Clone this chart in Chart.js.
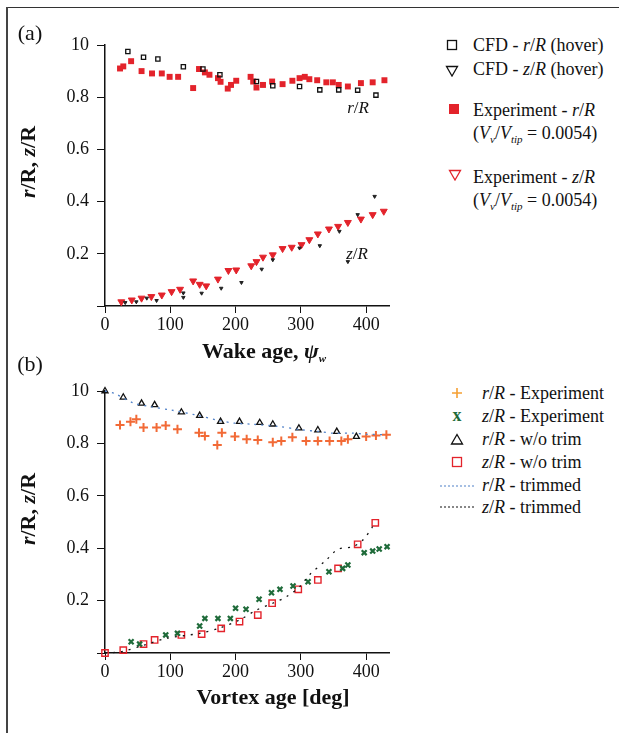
<!DOCTYPE html>
<html>
<head>
<meta charset="utf-8">
<script src="https://cdn.jsdelivr.net/npm/chart.js@4/dist/chart.umd.min.js"></script>
<style>
  html, body { margin: 0; padding: 0; background: #fff; }
  body { width: 619px; height: 733px; position: relative; overflow: hidden; font-family: 'Liberation Serif', Tinos, 'Times New Roman', 'DejaVu Serif', serif; color: #111; }
  .frame-top { position: absolute; left: 7px; top: 7px; width: 612px; height: 0; border-top: 1.5px solid #333; }
  .frame-left { position: absolute; left: 6px; top: 7px; width: 0; height: 726px; border-left: 2px solid #444; }
  canvas { position: absolute; left: 0; }
  .t { position: absolute; white-space: nowrap; transform: translate(-50%, -50%); }
  .lg { position: absolute; white-space: nowrap; font-size: 18px; line-height: 1; transform: translateY(-50%); }
  .sym { position: absolute; transform: translate(-50%, -50%); }
  i { font-style: italic; }
  sub { font-size: 11px; vertical-align: -4px; line-height: 0; }
</style>
</head>
<body>
<div class="frame-top"></div>
<div class="frame-left"></div>
<canvas id="chartA" width="400" height="340" style="top:0"></canvas>
<canvas id="chartB" width="400" height="393" style="top:340px"></canvas>

<!-- panel labels and axis titles -->
<div class="t" style="left:30px; top:33px; font-size:22px;">(a)</div>
<div class="t" style="left:30px; top:364px; font-size:22px;">(b)</div>
<div class="t" style="left:28px; top:162px; font-size:22px; font-weight:bold; transform: translate(-50%, -50%) rotate(-90deg);"><i>r</i>/R, <i>z</i>/R</div>
<div class="t" style="left:28px; top:509px; font-size:22px; font-weight:bold; transform: translate(-50%, -50%) rotate(-90deg);"><i>r</i>/R, <i>z</i>/R</div>
<div class="t" style="left:264px; top:351px; font-size:22px; font-weight:bold;">Wake age, <i>ψ</i><sub><i>w</i></sub></div>
<div class="t" style="left:273px; top:697px; font-size:22px; font-weight:bold;">Vortex age [deg]</div>
<div class="t" style="left:358px; top:108px; font-size:17px;"><i>r</i>/<i>R</i></div>
<div class="t" style="left:357px; top:254px; font-size:17px;"><i>z</i>/<i>R</i></div>

<!-- legend (a) -->
<svg class="sym" style="left:452px; top:45px" width="12" height="12"><rect x="1.5" y="1.5" width="9" height="9" fill="none" stroke="#111" stroke-width="1.3"/></svg>
<div class="lg" style="left:473px; top:45px;">CFD - <i>r</i>/<i>R</i> (hover)</div>
<svg class="sym" style="left:452px; top:71px" width="14" height="12"><polygon points="1.5,1.5 12.5,1.5 7,11" fill="none" stroke="#111" stroke-width="1.3"/></svg>
<div class="lg" style="left:473px; top:69px;">CFD - <i>z</i>/<i>R</i> (hover)</div>
<svg class="sym" style="left:454px; top:109px" width="12" height="12"><rect x="1" y="1" width="10" height="10" fill="#e3232b"/></svg>
<div class="lg" style="left:473px; top:110px;">Experiment - <i>r</i>/<i>R</i></div>
<div class="lg" style="left:473px; top:133px;">(<i>V</i><sub><i>v</i></sub>/<i>V</i><sub><i>tip</i></sub> = 0.0054)</div>
<svg class="sym" style="left:455px; top:175px" width="14" height="12"><polygon points="1.5,1.5 12.5,1.5 7,11" fill="none" stroke="#e3232b" stroke-width="1.3"/></svg>
<div class="lg" style="left:473px; top:177px;">Experiment - <i>z</i>/<i>R</i></div>
<div class="lg" style="left:473px; top:200px;">(<i>V</i><sub><i>v</i></sub>/<i>V</i><sub><i>tip</i></sub> = 0.0054)</div>

<!-- legend (b) -->
<svg class="sym" style="left:457px; top:393px" width="12" height="12"><path d="M6 1 V11 M1 6 H11" stroke="#f5a033" stroke-width="1.6"/></svg>
<div class="lg" style="left:482px; top:393px;"><i>r</i>/<i>R</i> - Experiment</div>
<div class="t" style="left:457px; top:415px; font-size:18px; font-weight:bold; color:#1f6b3a;">x</div>
<div class="lg" style="left:482px; top:416px;"><i>z</i>/<i>R</i> - Experiment</div>
<svg class="sym" style="left:457px; top:439px" width="14" height="12"><polygon points="7,1.5 12.5,11 1.5,11" fill="none" stroke="#111" stroke-width="1.3"/></svg>
<div class="lg" style="left:482px; top:439px;"><i>r</i>/<i>R</i> - w/o trim</div>
<svg class="sym" style="left:457px; top:462px" width="12" height="12"><rect x="1.5" y="1.5" width="9" height="9" fill="none" stroke="#e3232b" stroke-width="1.3"/></svg>
<div class="lg" style="left:482px; top:462px;"><i>z</i>/<i>R</i> - w/o trim</div>
<svg class="sym" style="left:457px; top:486px" width="34" height="4"><line x1="0" y1="2" x2="34" y2="2" stroke="#4f80c8" stroke-width="1.2" stroke-dasharray="2,2"/></svg>
<div class="lg" style="left:482px; top:485px;"><i>r</i>/<i>R</i> - trimmed</div>
<svg class="sym" style="left:457px; top:507px" width="34" height="4"><line x1="0" y1="2" x2="34" y2="2" stroke="#111" stroke-width="1.2" stroke-dasharray="2,2"/></svg>
<div class="lg" style="left:482px; top:507px;"><i>z</i>/<i>R</i> - trimmed</div>

<script>
// (a) wake geometry, hover
var wakeAgeExpR = [23, 28, 40, 56, 72, 87, 99, 112, 135, 144, 153, 160, 173, 177, 188, 193, 201, 223, 227, 232, 242, 256, 272, 287, 298, 306, 313, 325, 339, 349, 358, 372, 392, 410, 428];
var expRadial = [0.910, 0.918, 0.938, 0.900, 0.891, 0.891, 0.878, 0.878, 0.835, 0.908, 0.895, 0.886, 0.873, 0.859, 0.833, 0.847, 0.863, 0.878, 0.860, 0.837, 0.847, 0.860, 0.850, 0.863, 0.873, 0.878, 0.869, 0.865, 0.857, 0.857, 0.847, 0.841, 0.854, 0.857, 0.865];
var wakeAgeExpZ = [25, 41, 56, 71, 87, 102, 115, 135, 145, 155, 173, 189, 201, 224, 232, 242, 257, 272, 286, 301, 313, 326, 343, 357, 372, 392, 410, 427];
var expAxial = [0.016, 0.023, 0.030, 0.036, 0.042, 0.055, 0.064, 0.096, 0.083, 0.077, 0.103, 0.136, 0.138, 0.154, 0.170, 0.187, 0.196, 0.220, 0.225, 0.235, 0.254, 0.276, 0.295, 0.305, 0.320, 0.333, 0.350, 0.363];
var wakeAgeCfdR = [35, 59, 81, 120, 150, 176, 232, 257, 298, 329, 358, 387, 415];
var cfdRadial = [0.975, 0.953, 0.946, 0.917, 0.908, 0.886, 0.860, 0.844, 0.841, 0.828, 0.828, 0.827, 0.808];
var wakeAgeCfdZ = [31, 48, 64, 79, 120, 120, 148, 178, 209, 240, 257, 298, 329, 359, 372, 387, 413];
var cfdAxial = [0.013, 0.016, 0.030, 0.021, 0.050, 0.033, 0.049, 0.068, 0.090, 0.141, 0.177, 0.222, 0.231, 0.286, 0.170, 0.350, 0.420];

// (b) vortex age, trimmed vs untrimmed
var vortAgeExpR = [23, 39, 48, 59, 79, 93, 111, 144, 153, 172, 179, 199, 217, 234, 257, 270, 287, 308, 326, 344, 362, 372, 400, 415, 431];
var expRadialB = [0.870, 0.883, 0.892, 0.861, 0.861, 0.868, 0.854, 0.841, 0.828, 0.794, 0.841, 0.826, 0.816, 0.813, 0.804, 0.809, 0.823, 0.809, 0.809, 0.809, 0.809, 0.816, 0.826, 0.830, 0.833];
var vortAgeExpZ = [40, 53, 93, 111, 145, 153, 173, 192, 200, 216, 236, 255, 268, 288, 311, 343, 364, 372, 397, 410, 420, 432];
var expAxialB = [0.043, 0.034, 0.069, 0.075, 0.103, 0.132, 0.132, 0.132, 0.171, 0.167, 0.205, 0.230, 0.243, 0.256, 0.272, 0.310, 0.323, 0.336, 0.383, 0.389, 0.397, 0.406];
var vortAgeNoTrimR = [0, 28, 56, 76, 117, 145, 177, 206, 237, 257, 297, 326, 355, 385];
var noTrimRadial = [1.000, 0.976, 0.953, 0.947, 0.919, 0.906, 0.883, 0.883, 0.879, 0.873, 0.858, 0.851, 0.845, 0.826];
var vortAgeNoTrimZ = [0, 28, 59, 76, 117, 148, 178, 206, 234, 256, 296, 326, 357, 387, 414];
var noTrimAxial = [0.000, 0.011, 0.034, 0.050, 0.069, 0.072, 0.094, 0.120, 0.145, 0.190, 0.243, 0.279, 0.323, 0.415, 0.497];
var vortAgeTrimR = [0, 15, 43, 70, 102, 140, 170, 199, 227, 268, 300, 330, 349, 380, 400, 430];
var trimRadial = [1.000, 0.990, 0.955, 0.940, 0.927, 0.908, 0.890, 0.877, 0.873, 0.864, 0.852, 0.845, 0.839, 0.839, 0.835, 0.833];
var vortAgeTrimZ = [0, 25, 60, 94, 145, 175, 206, 232, 257, 278, 298, 313, 339, 357, 380, 395, 410];
var trimAxial = [0.000, 0.005, 0.030, 0.056, 0.075, 0.095, 0.126, 0.164, 0.190, 0.215, 0.253, 0.298, 0.355, 0.396, 0.406, 0.431, 0.482];

var xTicks = [0, 100, 200, 300, 400];

function pts(xs, ys) {
    return xs.map(function (x, i) { return { x: x, y: ys[i] }; });
}

var RED = '#e3232b';

Chart.defaults.font.family = "'Liberation Serif', Tinos, 'Times New Roman', 'DejaVu Serif', serif";
Chart.defaults.color = '#111';
Chart.defaults.animation = false;

function axes(xAxisHeight) {
    return {
        x: {
            type: 'linear', min: 0, max: 435,
            afterBuildTicks: function (scale) { scale.ticks = xTicks.map(function (v) { return { value: v }; }); },
            afterFit: function (scale) { scale.height = xAxisHeight; },
            ticks: { font: { size: 18 }, padding: 1, maxRotation: 0, color: '#111' },
            grid: { drawOnChartArea: false, drawTicks: true, tickLength: 7, color: '#111', lineWidth: 1 },
            border: { display: true, color: '#111', width: 1.5 }
        },
        y: {
            type: 'linear', min: 0, max: 1.0,
            ticks: {
                stepSize: 0.2, font: { size: 18 }, padding: 8, color: '#111',
                callback: function (v) {
                    if (Math.abs(v) < 1e-6) return '';
                    if (Math.abs(v - 1) < 1e-6) return '10';
                    return v.toFixed(1);
                }
            },
            afterFit: function (scale) { scale.width = 105; },
            grid: { drawOnChartArea: false, drawTicks: true, tickLength: 8, color: '#111', lineWidth: 1 },
            border: { display: true, color: '#111', width: 1.5 }
        }
    };
}

// (a)
new Chart(document.getElementById('chartA').getContext('2d'), {
    type: 'scatter',
    data: {
        datasets: [
            { label: 'CFD - r/R (hover)', data: pts(wakeAgeCfdR, cfdRadial), pointStyle: 'rect', pointRadius: 3, backgroundColor: 'rgba(0,0,0,0)', borderColor: '#111', pointBorderWidth: 1.3, clip: false },
            { label: 'CFD - z/R (hover)', data: pts(wakeAgeCfdZ, cfdAxial), pointStyle: 'triangle', rotation: 180, pointRadius: 2, backgroundColor: '#222', borderColor: '#222', pointBorderWidth: 1, clip: false },
            { label: 'Experiment - r/R', data: pts(wakeAgeExpR, expRadial), pointStyle: 'rect', pointRadius: 4.2, backgroundColor: RED, borderColor: RED, pointBorderWidth: 0, clip: false },
            { label: 'Experiment - z/R', data: pts(wakeAgeExpZ, expAxial), pointStyle: 'triangle', rotation: 180, pointRadius: 4, backgroundColor: RED, borderColor: RED, pointBorderWidth: 1, clip: false }
        ]
    },
    options: {
        responsive: false,
        layout: { padding: { left: 0, top: 45, right: 11, bottom: 0 } },
        plugins: { legend: { display: false }, tooltip: { enabled: false } },
        scales: axes(34)
    }
});

// (b)
new Chart(document.getElementById('chartB').getContext('2d'), {
    type: 'scatter',
    data: {
        datasets: [
            { type: 'line', label: 'r/R - trimmed', data: pts(vortAgeTrimR, trimRadial), borderColor: '#4f80c8', borderWidth: 1.3, borderDash: [2, 5], pointRadius: 0, fill: false, tension: 0.3, clip: false },
            { type: 'line', label: 'z/R - trimmed', data: pts(vortAgeTrimZ, trimAxial), borderColor: '#111', borderWidth: 1.3, borderDash: [2, 6], pointRadius: 0, fill: false, tension: 0.3, clip: false },
            { label: 'r/R - Experiment', data: pts(vortAgeExpR, expRadialB), pointStyle: 'cross', pointRadius: 4.5, borderColor: '#f26a36', backgroundColor: '#f26a36', pointBorderWidth: 2, clip: false },
            { label: 'z/R - Experiment', data: pts(vortAgeExpZ, expAxialB), pointStyle: 'crossRot', pointRadius: 3.5, borderColor: '#1f6b3a', backgroundColor: '#1f6b3a', pointBorderWidth: 2.2, clip: false },
            { label: 'r/R - w/o trim', data: pts(vortAgeNoTrimR, noTrimRadial), pointStyle: 'triangle', pointRadius: 3.5, borderColor: '#111', backgroundColor: 'rgba(0,0,0,0)', pointBorderWidth: 1.3, clip: false },
            { label: 'z/R - w/o trim', data: pts(vortAgeNoTrimZ, noTrimAxial), pointStyle: 'rect', pointRadius: 4.5, borderColor: RED, backgroundColor: 'rgba(0,0,0,0)', pointBorderWidth: 1.4, clip: false }
        ]
    },
    options: {
        responsive: false,
        layout: { padding: { left: 0, top: 51, right: 11, bottom: 0 } },
        plugins: { legend: { display: false }, tooltip: { enabled: false } },
        scales: axes(80)
    }
});
</script>
</body>
</html>
